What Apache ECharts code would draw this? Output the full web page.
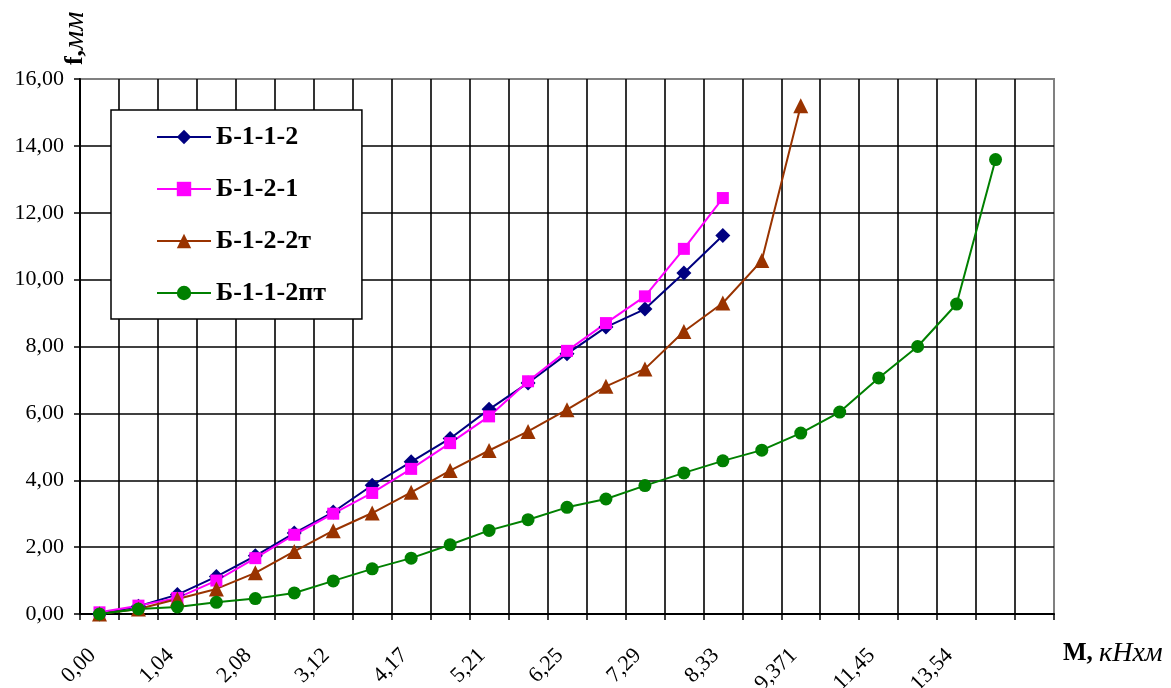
<!DOCTYPE html>
<html>
<head>
<meta charset="utf-8">
<script src="https://cdn.jsdelivr.net/npm/echarts@6/dist/echarts.min.js"></script>
<style>
    html, body { margin: 0; padding: 0; background: #fff; }
    #deflection-chart { width: 1171px; height: 688px; }
</style>
</head>
<body>
<div id="deflection-chart"></div>
<script>
// bending moment M, kN*m (every second one is labelled)
var categories = ['0,00', '0,52', '1,04', '1,56', '2,08', '2,60', '3,12', '3,64', '4,17', '4,69',
    '5,21', '5,73', '6,25', '6,77', '7,29', '7,81', '8,33', '8,85', '9,371', '10,41',
    '11,45', '12,49', '13,54', '14,58', ''];

var seriesNames = ['Б-1-1-2', 'Б-1-2-1', 'Б-1-2-2т', 'Б-1-1-2пт'];

// deflection f, mm
var dataB112 = [0, 0.23, 0.58, 1.12, 1.74, 2.42, 3.05, 3.85, 4.55, 5.25, 6.12, 6.91, 7.78, 8.58, 9.12, 10.2, 11.32];
var dataB121 = [0.05, 0.25, 0.48, 1.0, 1.67, 2.37, 3.0, 3.62, 4.34, 5.11, 5.91, 6.96, 7.87, 8.7, 9.5, 10.92, 12.44];
var dataB122t = [0, 0.15, 0.45, 0.75, 1.23, 1.87, 2.49, 3.02, 3.64, 4.29, 4.89, 5.46, 6.11, 6.81, 7.33, 8.45, 9.3, 10.57, 15.2];
var dataB112pt = [0, 0.15, 0.21, 0.35, 0.46, 0.63, 0.99, 1.35, 1.67, 2.07, 2.5, 2.82, 3.19, 3.44, 3.84, 4.22,
    4.58, 4.9, 5.41, 6.04, 7.06, 8.0, 9.27, 13.59];

var colors = ['#000080', '#ff00ff', '#993300', '#008000'];
var symbols = ['diamond', 'rect', 'triangle', 'circle'];
var symbolSizes = [15, 12, 15, 13];

function deflectionChart() {
    var chart = echarts.init(document.getElementById('deflection-chart'));
    var font = '"Liberation Serif", "Times New Roman", serif';
    var allData = [dataB112, dataB121, dataB122t, dataB112pt];

    var series = allData.map(function (d, i) {
        return {
            name: seriesNames[i],
            type: 'line',
            data: d,
            symbol: symbols[i],
            symbolSize: symbolSizes[i],
            showAllSymbol: true,
            itemStyle: { color: colors[i] },
            lineStyle: { color: colors[i], width: 2 }
        };
    });

    var option = {
        animation: false,
        textStyle: { fontFamily: font },
        grid: {
            left: 80, right: 117, top: 79, bottom: 74,
            outerBoundsMode: 'none',
            show: true,
            borderColor: '#808080',
            borderWidth: 2,
            backgroundColor: '#fff'
        },
        legend: {
            orient: 'vertical',
            left: 111,
            top: 110,
            padding: [14, 36, 13, 45],
            itemGap: 26,
            itemWidth: 54,
            itemHeight: 18,
            backgroundColor: '#fff',
            borderColor: '#000',
            borderWidth: 1.5,
            textStyle: { fontFamily: font, fontSize: 26, fontWeight: 'bold', color: '#000' },
            data: seriesNames
        },
        xAxis: {
            type: 'category',
            data: categories,
            boundaryGap: true,
            name: '{b|M, }{i|кНхм}',
            nameLocation: 'end',
            nameGap: 9,
            nameTextStyle: {
                verticalAlign: 'top',
                padding: [26, 0, 0, 0],
                rich: {
                    b: { fontFamily: font, fontSize: 25, fontWeight: 'bold', color: '#000' },
                    i: { fontFamily: font, fontSize: 28, fontStyle: 'italic', color: '#000' }
                }
            },
            axisLine: { lineStyle: { color: '#000', width: 2 } },
            axisTick: { show: true, interval: 0, length: 6, lineStyle: { color: '#000', width: 1.5 } },
            axisLabel: {
                interval: 1,
                rotate: 45,
                margin: 31,
                padding: [0, 10, 0, 0],
                fontFamily: font,
                fontSize: 22,
                color: '#000'
            },
            splitLine: {
                show: true,
                interval: 0,
                showMinLine: false,
                showMaxLine: false,
                lineStyle: { color: '#000', width: 1.6 }
            }
        },
        yAxis: {
            type: 'value',
            min: 0,
            max: 16,
            interval: 2,
            name: '{b|f,}{i|мм}',
            nameLocation: 'end',
            nameRotate: 90,
            nameGap: 9,
            nameTextStyle: {
                padding: [0, 0, 10, 0],
                rich: {
                    b: { fontFamily: font, fontSize: 26, fontWeight: 'bold', color: '#000' },
                    i: { fontFamily: font, fontSize: 30, fontStyle: 'italic', color: '#000' }
                }
            },
            axisLine: { show: true, lineStyle: { color: '#000', width: 2 } },
            axisTick: { show: true, length: 6, lineStyle: { color: '#000', width: 1.5 } },
            axisLabel: {
                margin: 16,
                fontFamily: font,
                fontSize: 22,
                color: '#000',
                formatter: function (v) { return v.toFixed(2).replace('.', ','); }
            },
            splitLine: {
                show: true,
                showMinLine: false,
                showMaxLine: false,
                lineStyle: { color: '#000', width: 1.6 }
            }
        },
        series: series
    };

    option && chart.setOption(option);
}

deflectionChart();
</script>
</body>
</html>
